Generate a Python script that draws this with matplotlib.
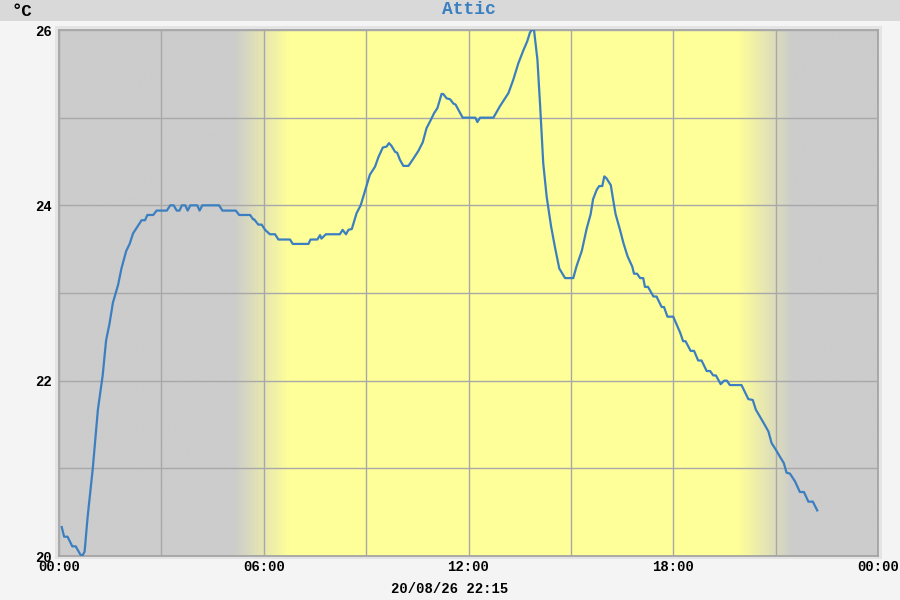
import numpy as np
import matplotlib
matplotlib.use("Agg")
import matplotlib.pyplot as plt
from matplotlib.patches import Rectangle

# ---- data ----
hours = [0.08, 0.15, 0.25, 0.39, 0.49, 0.62, 0.68, 0.75, 0.84, 0.99, 1.14, 1.28, 1.38, 1.48,
         1.58, 1.73, 1.83, 1.97, 2.07, 2.17, 2.27, 2.42, 2.52, 2.59, 2.76, 2.86, 3.16, 3.26,
         3.36, 3.45, 3.53, 3.6, 3.7, 3.77, 3.85, 4.05, 4.12, 4.2, 4.69, 4.79, 5.18, 5.28,
         5.6, 5.69, 5.72, 5.84, 5.94, 6.04, 6.18, 6.33, 6.43, 6.77, 6.85, 7.31, 7.37, 7.57,
         7.65, 7.69, 7.82, 8.23, 8.31, 8.41, 8.48, 8.58, 8.72, 8.84, 8.97, 9.11, 9.26, 9.36,
         9.49, 9.60, 9.67, 9.74, 9.85, 9.91, 9.99, 10.09, 10.24, 10.38, 10.53, 10.66, 10.77,
         10.89, 10.99, 11.09, 11.21, 11.26, 11.36, 11.46, 11.56, 11.62, 11.83, 12.2, 12.26,
         12.34, 12.73, 12.92, 13.17, 13.31, 13.46, 13.61, 13.72, 13.80, 13.85, 13.92, 14.02,
         14.10, 14.19, 14.29, 14.42, 14.53, 14.66, 14.83, 15.07, 15.17, 15.32, 15.46, 15.58,
         15.65, 15.76, 15.83, 15.92, 15.98, 16.04, 16.17, 16.24, 16.31, 16.44, 16.54, 16.66,
         16.80, 16.85, 16.94, 17.03, 17.12, 17.17, 17.26, 17.42, 17.51, 17.66, 17.73, 17.83,
         18.0, 18.2, 18.29, 18.36, 18.51, 18.61, 18.73, 18.83, 18.98, 19.08, 19.17, 19.25,
         19.39, 19.49, 19.57, 19.66, 20.0, 20.10, 20.20, 20.33, 20.42, 20.54, 20.66, 20.79,
         20.88, 21.01, 21.13, 21.24, 21.32, 21.42, 21.57, 21.71, 21.83, 21.96, 22.09, 22.22]
temps = [20.33, 20.22, 20.22, 20.11, 20.11, 20.02, 20.0, 20.05, 20.45, 21.0, 21.67, 22.06,
         22.46, 22.65, 22.89, 23.09, 23.28, 23.48, 23.56, 23.68, 23.74, 23.83, 23.83, 23.89,
         23.89, 23.94, 23.94, 24.0, 24.0, 23.94, 23.94, 24.0, 24.0, 23.94, 24.0, 24.0, 23.94,
         24.0, 24.0, 23.94, 23.94, 23.89, 23.89, 23.84, 23.84, 23.78, 23.78, 23.72, 23.67,
         23.67, 23.61, 23.61, 23.56, 23.56, 23.61, 23.61, 23.66, 23.62, 23.67, 23.67, 23.72,
         23.67, 23.72, 23.73, 23.91, 24.0, 24.17, 24.35, 24.44, 24.55, 24.66, 24.67, 24.71,
         24.68, 24.61, 24.60, 24.52, 24.45, 24.45, 24.53, 24.62, 24.72, 24.88, 24.97, 25.05,
         25.11, 25.27, 25.27, 25.22, 25.21, 25.16, 25.15, 25.0, 25.0, 24.95, 25.0, 25.0,
         25.13, 25.28, 25.43, 25.62, 25.77, 25.87, 25.97, 26.0, 26.0, 25.66, 25.13, 24.48,
         24.10, 23.76, 23.53, 23.28, 23.17, 23.17, 23.31, 23.48, 23.73, 23.90, 24.07, 24.18,
         24.22, 24.22, 24.33, 24.31, 24.23, 24.06, 23.90, 23.72, 23.57, 23.42, 23.30, 23.22,
         23.22, 23.17, 23.17, 23.07, 23.07, 22.96, 22.96, 22.84, 22.84, 22.73, 22.73, 22.55,
         22.45, 22.45, 22.34, 22.34, 22.23, 22.23, 22.11, 22.11, 22.06, 22.06, 21.96, 22.0,
         22.0, 21.95, 21.95, 21.87, 21.79, 21.78, 21.67, 21.59, 21.51, 21.42, 21.29, 21.21,
         21.13, 21.06, 20.95, 20.94, 20.85, 20.73, 20.73, 20.62, 20.62, 20.52]

xtick_pos = [0, 6, 12, 18, 24]
xtick_labels = ["00:00", "06:00", "12:00", "18:00", "00:00"]
ytick_pos = [20, 22, 24, 26]
ytick_labels = ["20", "22", "24", "26"]
sunrise = (5.15, 6.75)   # ramp start / end, hours
sunset = (19.9, 21.5)
title = "Attic"
unit = "°C"
footer = "20/08/26 22:15"

# ---- figure ----
FONT = ["Liberation Mono", "DejaVu Sans Mono"]
fig = plt.figure(figsize=(9, 6), dpi=100, facecolor="#f4f4f4")

L, R, B, T = 59 / 900, 878 / 900, 1 - 556 / 600, 1 - 30 / 600
# light frame around the plot
fig.patches.append(Rectangle((L - 4 / 900, B - 3 / 600), (R - L) + 8 / 900, (T - B) + 7 / 600,
                             transform=fig.transFigure, facecolor="#e4e4e4",
                             edgecolor="none", zorder=-5))
# title bar
fig.patches.append(Rectangle((0, 1 - 21 / 600), 1, 21 / 600, transform=fig.transFigure,
                             facecolor="#d9d9d9", edgecolor="none", zorder=-5))

ax = fig.add_axes([L, B, R - L, T - B])
ax.set_zorder(2)

# day / night background gradient
tt = np.linspace(0, 24, 2000)
f = np.clip((tt - sunrise[0]) / (sunrise[1] - sunrise[0]), 0, 1) * \
    np.clip((sunset[1] - tt) / (sunset[1] - sunset[0]), 0, 1)
gray = np.array([0xcc, 0xcc, 0xcc]) / 255
yellow = np.array([0xff, 0xff, 0x99]) / 255
img = gray[None, :] * (1 - f[:, None]) + yellow[None, :] * f[:, None]
ax.imshow(img[None, :, :], extent=[0, 24, 20, 26], aspect="auto", zorder=0,
          interpolation="bilinear")
ax.set_xlim(0, 24)
ax.set_ylim(20, 26)

ax.set_xticks(np.arange(0, 25, 3))
ax.set_yticks(np.arange(20, 27, 1))
ax.grid(True, color="#a8a8a8", linewidth=1.0, zorder=1)
ax.set_axisbelow(False)
ax.set_xticklabels([xtick_labels[xtick_pos.index(v)] if v in xtick_pos else ""
                    for v in np.arange(0, 25, 3)])
ax.set_yticklabels([ytick_labels[ytick_pos.index(v)] if v in ytick_pos else ""
                    for v in np.arange(20, 27, 1)])
ax.tick_params(length=0, labelsize=10, colors="black", pad=5)
ax.tick_params(axis="x", pad=3)
for lab in ax.get_xticklabels() + ax.get_yticklabels():
    lab.set_family(FONT)
    lab.set_fontweight("bold")
for s in ax.spines.values():
    s.set_color("#a0a0a0")
    s.set_linewidth(1.2)

ax.plot(hours, temps, color="#3b7fc1", linewidth=1.6, zorder=3, solid_joinstyle="round")

fig.text((L + R) / 2, 1 - 10 / 600, title, ha="center", va="center", color="#3a80c0",
         fontsize=13, fontweight="bold", family=FONT)
fig.text(11 / 900, 1 - 11 / 600, unit, ha="left", va="center", color="black",
         fontsize=12.5, fontweight="bold", family=FONT)
fig.text(450 / 900, 1 - 589 / 600, footer, ha="center", va="center", color="black",
         fontsize=10, fontweight="bold", family=FONT)

fig.savefig("out.png", dpi=100, facecolor=fig.get_facecolor())
